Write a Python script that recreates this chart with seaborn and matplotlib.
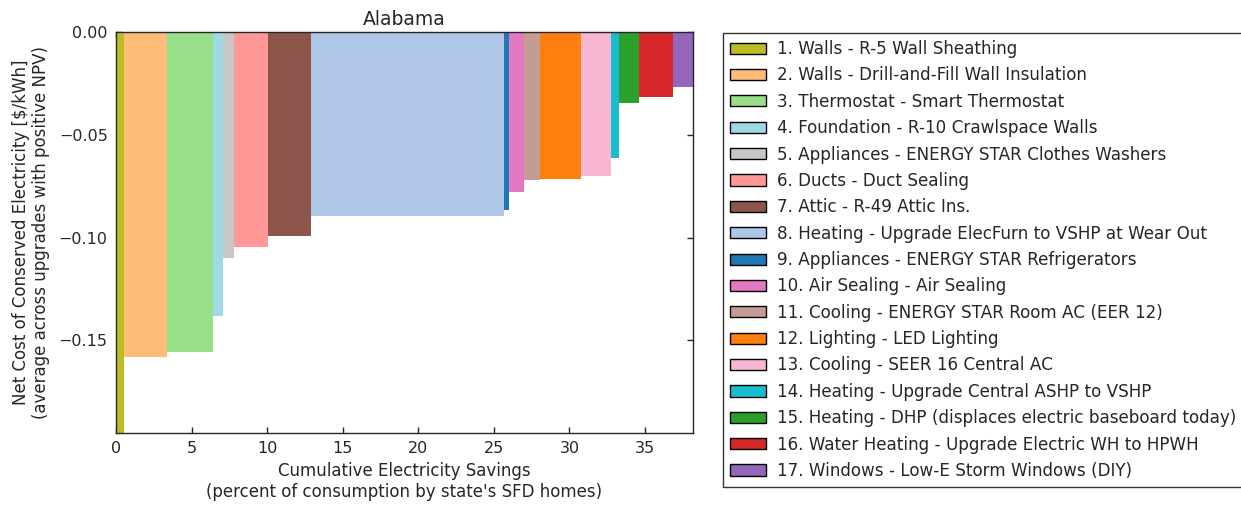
import numpy as np
import pandas as pd
import matplotlib
matplotlib.use("Agg")
import matplotlib.pyplot as plt
from matplotlib.patches import Patch
import seaborn as sns

labels = [
    "1. Walls - R-5 Wall Sheathing",
    "2. Walls - Drill-and-Fill Wall Insulation",
    "3. Thermostat - Smart Thermostat",
    "4. Foundation - R-10 Crawlspace Walls",
    "5. Appliances - ENERGY STAR Clothes Washers",
    "6. Ducts - Duct Sealing",
    "7. Attic - R-49 Attic Ins.",
    "8. Heating - Upgrade ElecFurn to VSHP at Wear Out",
    "9. Appliances - ENERGY STAR Refrigerators",
    "10. Air Sealing - Air Sealing",
    "11. Cooling - ENERGY STAR Room AC (EER 12)",
    "12. Lighting - LED Lighting",
    "13. Cooling - SEER 16 Central AC",
    "14. Heating - Upgrade Central ASHP to VSHP",
    "15. Heating - DHP (displaces electric baseboard today)",
    "16. Water Heating - Upgrade Electric WH to HPWH",
    "17. Windows - Low-E Storm Windows (DIY)",
]
savings = [0.53, 2.84, 3.05, 0.66, 0.73, 2.27, 2.79, 12.81, 0.32, 1.02,
           1.05, 2.70, 1.96, 0.54, 1.32, 2.24, 1.34]
cost = [-0.195, -0.158, -0.1555, -0.138, -0.110, -0.1047, -0.0994, -0.0893,
        -0.0866, -0.0777, -0.0718, -0.0717, -0.0699, -0.0615, -0.0346,
        -0.0317, -0.0269]
colors = ["#bcbd22", "#ffbb78", "#98df8a", "#9edae5", "#c7c7c7", "#ff9896",
          "#8c564b", "#aec7e8", "#1f77b4", "#e377c2", "#c49c94", "#ff7f0e",
          "#f7b6d2", "#17becf", "#2ca02c", "#d62728", "#9467bd"]
xticks = [0, 5, 10, 15, 20, 25, 30, 35]
yticks = [0.00, -0.05, -0.10, -0.15]

sns.set_style("ticks", {"xtick.direction": "in", "ytick.direction": "in"})
plt.rcParams["font.family"] = ["DejaVu Sans"]
palette = sns.color_palette(colors)

edges = np.concatenate([[0.0], np.cumsum(savings)])
df = pd.DataFrame({"upgrade": labels, "left": edges[:-1],
                   "width": savings, "cost": cost})

fig = plt.figure(figsize=(12.41, 5.05), dpi=100)
ax = fig.add_axes([116 / 1241, 1 - 433 / 505, (693 - 116) / 1241, (433 - 32) / 505])

ax.bar(df["left"], df["cost"], width=df["width"], align="edge",
       color=palette, linewidth=0)

ax.set_xlim(0, edges[-1])
ax.set_ylim(min(cost), 0)
ax.set_xticks(xticks)
ax.set_yticks(yticks)
ax.set_yticklabels([f"{v:.2f}".replace("-", "\u2212") for v in yticks])
ax.tick_params(axis="both", which="both", direction="in", top=True, right=True,
               length=4, width=1, labelsize=11.5, colors=".15", pad=6)
for s in ax.spines.values():
    s.set_visible(True)
    s.set_color(".15")
    s.set_linewidth(1)
ax.set_title("Alabama", fontsize=13.5, color=".15", pad=5)
ax.set_xlabel("Cumulative Electricity Savings\n(percent of consumption by state's SFD homes)",
              fontsize=12, color=".15", labelpad=4)
ax.set_ylabel("Net Cost of Conserved Electricity [$/kWh]\n(average across upgrades with positive NPV)",
              fontsize=12, color=".15", labelpad=6)

handles = [Patch(facecolor=c, edgecolor="black", linewidth=1) for c in palette]
leg = fig.legend(handles, labels, loc="upper left",
                 bbox_to_anchor=(722.5 / 1241, 1 - 33 / 505), fontsize=12.05,
                 frameon=True, fancybox=False, shadow=False, borderaxespad=0,
                 labelspacing=0.5, handlelength=2.2, handleheight=0.65,
                 handletextpad=0.62, borderpad=0.42)
leg.get_frame().set_edgecolor("black")
leg.get_frame().set_linewidth(1)
for t in leg.get_texts():
    t.set_color(".15")

fig.savefig("out.png", dpi=100)
